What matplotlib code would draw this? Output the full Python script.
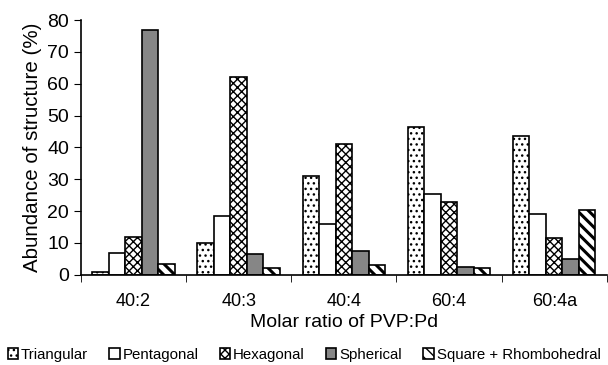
import numpy as np
import matplotlib.pyplot as plt

plt.rcParams['font.family'] = ['Liberation Sans', 'DejaVu Sans']
plt.rcParams['hatch.linewidth'] = 1.0

categories = ["40:2", "40:3", "40:4", "60:4", "60:4a"]
series_names = ["Triangular", "Pentagonal", "Hexagonal", "Spherical", "Square + Rhombohedral"]
triangular = [1, 10, 31, 46.5, 43.5]
pentagonal = [7, 18.5, 16, 25.5, 19]
hexagonal = [12, 62, 41, 23, 11.5]
spherical = [77, 6.5, 7.5, 2.5, 5]
square_rhombo = [3.5, 2.2, 3, 2.2, 20.5]

values = [triangular, pentagonal, hexagonal, spherical, square_rhombo]
colors = ['white', 'white', 'white', '#868686', 'white']
hatches = ['...', None, 'xxxx', None, '\\\\\\']
hatch_lw = [1.0, 1.0, 1.0, 1.0, 2.2]

fig = plt.figure(figsize=(6.08, 3.65), dpi=100)
ax = fig.add_axes([0.133, 0.247, 0.865, 0.698])

x = np.arange(len(categories))
w = 0.157
handles = []
for i, (vals, c, h, name) in enumerate(zip(values, colors, hatches, series_names)):
    with plt.rc_context({'hatch.linewidth': hatch_lw[i]}):
        b = ax.bar(x + (i - 2) * w, vals, w, color=c, edgecolor='black', linewidth=1.2,
                   hatch=h, label=name)
    for p in b:
        if hasattr(p, 'set_hatch_linewidth'):
            p.set_hatch_linewidth(hatch_lw[i])
    handles.append(b)

ax.set_xlim(-0.5, len(categories) - 0.5)
ax.set_ylim(0, 80)
ax.set_yticks(range(0, 81, 10))
ax.set_xticks(x)
ax.set_xticklabels(categories, fontsize=13)
ax.set_xticks(np.arange(-0.5, len(categories)), minor=True)
ax.tick_params(axis='x', which='major', length=0, pad=13)
ax.tick_params(axis='x', which='minor', length=5, direction='out')
ax.tick_params(axis='y', labelsize=14, length=5, direction='out')
ax.spines['top'].set_visible(False)
ax.spines['right'].set_visible(False)
ax.spines['left'].set_linewidth(1.2)
ax.spines['bottom'].set_linewidth(1.2)

ax.set_ylabel("Abundance of structure (%)", fontsize=14.8)
ax.set_xlabel("Molar ratio of PVP:Pd", fontsize=14, labelpad=3)

leg = fig.legend(handles=handles, loc='lower center', bbox_to_anchor=(0.5, -0.028), ncol=5,
                 frameon=False, fontsize=10.8, handlelength=0.7, handleheight=0.7,
                 handletextpad=0.2, columnspacing=1.4)

fig.savefig("out.png", dpi=100)
